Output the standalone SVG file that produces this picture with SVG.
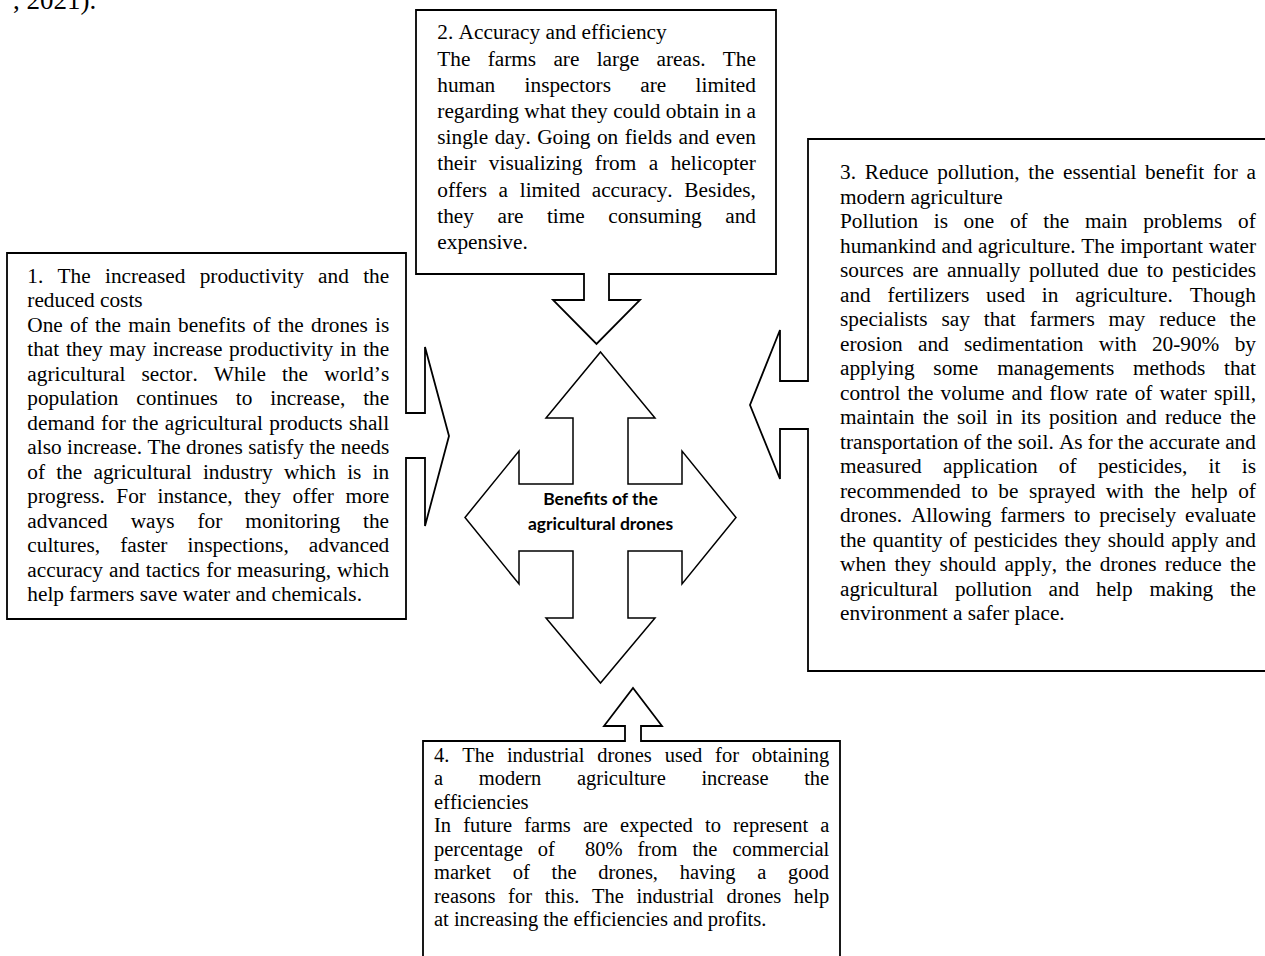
<svg xmlns="http://www.w3.org/2000/svg" width="1265" height="956" viewBox="0 0 1265 956">
<style>
.t{font-family:"Liberation Serif","Times New Roman",serif;font-size:21.3px;fill:#000;font-kerning:none;}
.t4{font-size:20.5px;}
.box{fill:#fff;stroke:#000;stroke-width:1.8;stroke-linejoin:miter;}
.cross{fill:#fff;stroke:#000;stroke-width:1.5;stroke-linejoin:miter;}
.ct{font-family:Lato,"Open Sans",sans-serif;font-weight:bold;font-size:17.5px;fill:#000;text-anchor:middle;}
</style>
<rect x="0" y="0" width="1265" height="956" fill="#fff"/>
<text class="t" x="13" y="9" style="font-size:27px">, 2021).</text>

<g id="connectors"></g>

<g id="center">
<path class="cross" d="M600.5,352 L655,418 H628 V484 H682 V451 L736,517.5 L682,584 V551 H628 V618 H655 L600.5,683 L546,618 H573 V551 H519 V584 L465,517.5 L519,451 V484 H573 V418 H546 Z"/>
<text class="ct" x="600.5" y="505">Benefits of the</text>
<text class="ct" x="600.5" y="530">agricultural drones</text>
</g>

<g id="node2">
<path class="box" d="M416,10 H776 V274 H609 V300 H640 L596.5,344 L553,300 H584 V274 H416 Z"/>
<text class="t" x="437.3" y="39.3">2. Accuracy and efficiency</text>
<text class="t" x="437.3" y="65.5" word-spacing="11.93">The farms are large areas. The</text>
<text class="t" x="437.3" y="91.7" word-spacing="24">human inspectors are limited</text>
<text class="t" x="437.3" y="117.9" word-spacing="0.07">regarding what they could obtain in a</text>
<text class="t" x="437.3" y="144.1" word-spacing="1.15">single day. Going on fields and even</text>
<text class="t" x="437.3" y="170.3" word-spacing="7.2">their visualizing from a helicopter</text>
<text class="t" x="437.3" y="196.5" word-spacing="6.33">offers a limited accuracy. Besides,</text>
<text class="t" x="437.3" y="222.7" word-spacing="18.15">they are time consuming and</text>
<text class="t" x="437.3" y="248.9">expensive.</text>
</g>

<g id="node1">
<path class="box" d="M7,253 H406 V413 H425 V347 L449,436 L425,526 V458 H406 V619 H7 Z"/>
<text class="t" x="27.3" y="282.7" word-spacing="8.98">1. The increased productivity and the</text>
<text class="t" x="27.3" y="307.2">reduced costs</text>
<text class="t" x="27.3" y="331.7" word-spacing="1.92">One of the main benefits of the drones is</text>
<text class="t" x="27.3" y="356.2" word-spacing="1.37">that they may increase productivity in the</text>
<text class="t" x="27.3" y="380.7" word-spacing="10.8">agricultural sector. While the world’s</text>
<text class="t" x="27.3" y="405.2" word-spacing="12.56">population continues to increase, the</text>
<text class="t" x="27.3" y="429.7" word-spacing="1.06">demand for the agricultural products shall</text>
<text class="t" x="27.3" y="454.2" word-spacing="0.1">also increase. The drones satisfy the needs</text>
<text class="t" x="27.3" y="478.7" word-spacing="5.9">of the agricultural industry which is in</text>
<text class="t" x="27.3" y="503.2" word-spacing="6.27">progress. For instance, they offer more</text>
<text class="t" x="27.3" y="527.7" word-spacing="17.7">advanced ways for monitoring the</text>
<text class="t" x="27.3" y="552.2" word-spacing="14.8">cultures, faster inspections, advanced</text>
<text class="t" x="27.3" y="576.7" word-spacing="0.7">accuracy and tactics for measuring, which</text>
<text class="t" x="27.3" y="601.2">help farmers save water and chemicals.</text>
</g>

<g id="node3">
<path class="box" d="M808,139 H1270 V671 H808 V429 H780 V479 L750,405 L780,330 V381 H808 Z"/>
<text class="t" x="840" y="179" word-spacing="3.4">3. Reduce pollution, the essential benefit for a</text>
<text class="t" x="840" y="203.5">modern agriculture</text>
<text class="t" x="840" y="228" word-spacing="10.3">Pollution is one of the main problems of</text>
<text class="t" x="840" y="252.5" word-spacing="0.4">humankind and agriculture. The important water</text>
<text class="t" x="840" y="277" word-spacing="3.3">sources are annually polluted due to pesticides</text>
<text class="t" x="840" y="301.5" word-spacing="11.5">and fertilizers used in agriculture. Though</text>
<text class="t" x="840" y="326" word-spacing="8.6">specialists say that farmers may reduce the</text>
<text class="t" x="840" y="350.5" word-spacing="9.96">erosion and sedimentation with 20-90% by</text>
<text class="t" x="840" y="375" word-spacing="13.5">applying some managements methods that</text>
<text class="t" x="840" y="399.5" word-spacing="1.8">control the volume and flow rate of water spill,</text>
<text class="t" x="840" y="424" word-spacing="2.9">maintain the soil in its position and reduce the</text>
<text class="t" x="840" y="448.5" word-spacing="-0.13">transportation of the soil. As for the accurate and</text>
<text class="t" x="840" y="473" word-spacing="16">measured application of pesticides, it is</text>
<text class="t" x="840" y="497.5" word-spacing="5.26">recommended to be sprayed with the help of</text>
<text class="t" x="840" y="522" word-spacing="3.46">drones. Allowing farmers to precisely evaluate</text>
<text class="t" x="840" y="546.5" word-spacing="1.37">the quantity of pesticides they should apply and</text>
<text class="t" x="840" y="571" word-spacing="2.98">when they should apply, the drones reduce the</text>
<text class="t" x="840" y="595.5" word-spacing="11.4">agricultural pollution and help making the</text>
<text class="t" x="840" y="620">environment a safer place.</text>
</g>

<g id="node4">
<path class="box" d="M423,962 V741 H625 V726 H604 L633,688 L662,726 H641 V741 H840 V962 Z"/>
<text class="t t4" x="434" y="761.7" word-spacing="7.71">4. The industrial drones used for obtaining</text>
<text class="t t4" x="434" y="785.2" word-spacing="30.5">a modern agriculture increase the</text>
<text class="t t4" x="434" y="808.7">efficiencies</text>
<text class="t t4" x="434" y="832.2" word-spacing="6.95">In future farms are expected to represent a</text>
<text class="t t4" x="434" y="855.7" word-spacing="9.9">percentage of &#160;80% from the commercial</text>
<text class="t t4" x="434" y="879.2" word-spacing="16.6">market of the drones, having a good</text>
<text class="t t4" x="434" y="902.7" word-spacing="7.5">reasons for this. The industrial drones help</text>
<text class="t t4" x="434" y="926.2">at increasing the efficiencies and profits.</text>
</g>
</svg>
